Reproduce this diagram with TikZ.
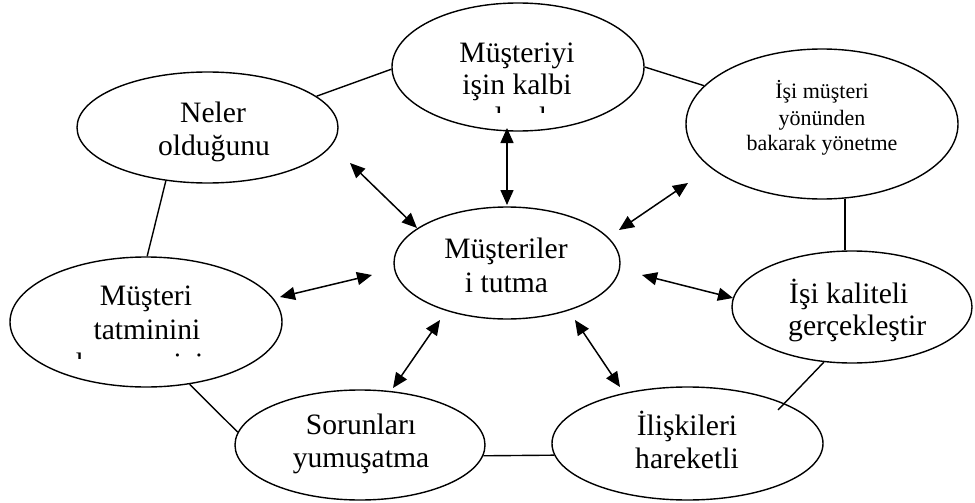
\documentclass[tikz,border=0pt]{standalone}
\usepackage{fontspec}
\setmainfont{Liberation Serif}
\usetikzlibrary{shapes.geometric,arrows.meta}
\newcommand\ovalfont{\fontsize{29.6}{33}\selectfont}
\newcommand\ovalsmall{\fontsize{22}{25.5}\selectfont}
\begin{document}
\begin{tikzpicture}[x=1pt,y=-1pt,
  oval/.style={draw,ellipse,line width=1.4pt,inner sep=0pt},
  lbl/.style={font=\ovalfont,inner sep=0pt,anchor=base},
  lblsmall/.style={font=\ovalsmall,inner sep=0pt,anchor=base},
  link/.style={line width=1.4pt},
  biarrow/.style={line width=1.5pt,{Triangle[length=15pt,width=13pt]}-{Triangle[length=15pt,width=13pt]}}]
\useasboundingbox (0,0) rectangle (975,503);

% ovals
\node[oval,minimum width=252pt,minimum height=128pt] (top) at (518,67) {};
\node[oval,minimum width=261pt,minimum height=111pt] (nel) at (207.5,127.5) {};
\node[oval,minimum width=272pt,minimum height=150pt] (rtop) at (822,124) {};
\node[oval,minimum width=226pt,minimum height=112pt] (mid) at (507,263) {};
\node[oval,minimum width=272pt,minimum height=130pt] (lft) at (146,322) {};
\node[oval,minimum width=240pt,minimum height=112pt] (rgt) at (852,307) {};
\node[oval,minimum width=250pt,minimum height=110pt] (bl) at (360,445) {};
\node[oval,minimum width=271pt,minimum height=113pt] (br) at (687.5,443.5) {};

% labels
\node[lbl] (top1) at (517,63) {Müşteriyi};
\node[lbl] (top2) at (517,95) {işin kalbi};
\begin{scope}
  \clip (430,100) rectangle (610,112);
  \node[lbl] (top3) at (517,127) {olarak};
\end{scope}
\node[lbl] (nel1) at (213,122) {Neler};
\node[lbl] (nel2) at (214,155) {olduğunu};
\node[lblsmall] (rtop1) at (822,99) {İşi müşteri};
\node[lblsmall] (rtop2) at (822,125) {yönünden};
\node[lblsmall] (rtop3) at (822,150.5) {bakarak yönetme};
\node[lbl] (mid1) at (506,258) {Müşteriler};
\node[lbl] (mid2) at (506.5,292) {i tutma};
\node[lbl] (lft1) at (146,305) {Müşteri};
\node[lbl] (lft2) at (147,339) {tatminini};
\begin{scope}
  \clip (20,345) rectangle (280,358);
  \node[lbl] (lft3) at (147,373) {koruma için};
\end{scope}
\node[lbl,anchor=base west] (rgt1) at (789,303) {İşi kaliteli};
\node[lbl,anchor=base west] (rgt2) at (788,335) {gerçekleştir};
\node[lbl] (bl1) at (361,434) {Sorunları};
\node[lbl] (bl2) at (361,467) {yumuşatma};
\node[lbl] (br1) at (687,435) {İlişkileri};
\node[lbl] (br2) at (687,468) {hareketli};

% ring of plain links
\coordinate (brin) at (778,410);
\draw[link] (nel.16) -- (top.181);
\draw[link] (top.0) -- (rtop.162);
\draw[link] (rtop.287) -- (rtop.287 |- rgt.north);
\draw[link] (rgt.243) -- (brin);
\draw[link] (br.185) -- (bl.355);
\draw[link] (bl.174) -- (lft.305);
\draw[link] (lft.89) -- (nel.232);

% arrows between the centre and the outer ovals
\coordinate (a1s) at (350,163);  \coordinate (a1e) at (417,228);
\coordinate (a2s) at (507,128);  \coordinate (a2e) at (507,205);
\coordinate (a3s) at (688,183);  \coordinate (a3e) at (619,230);
\coordinate (a4s) at (280,297);  \coordinate (a4e) at (372,275);
\coordinate (a5s) at (642,275);  \coordinate (a5e) at (733,298);
\coordinate (a6s) at (440,320);  \coordinate (a6e) at (393,388);
\coordinate (a7s) at (575,320);  \coordinate (a7e) at (620,387);
\draw[biarrow] (a1s) -- (a1e);
\draw[biarrow] (a2s) -- (a2e);
\draw[biarrow] (a3s) -- (a3e);
\draw[biarrow] (a4s) -- (a4e);
\draw[biarrow] (a5s) -- (a5e);
\draw[biarrow] (a6s) -- (a6e);
\draw[biarrow] (a7s) -- (a7e);
\end{tikzpicture}
\end{document}
